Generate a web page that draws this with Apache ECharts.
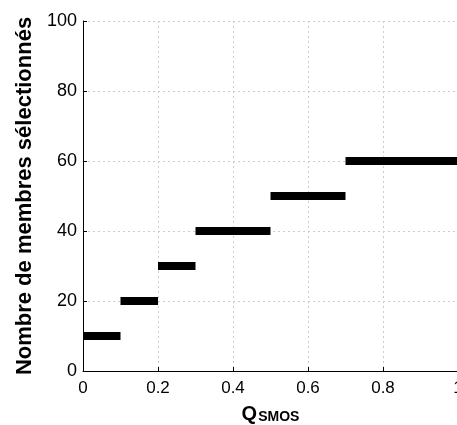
<!DOCTYPE html>
<html><head><meta charset="utf-8">
<script src="https://cdn.jsdelivr.net/npm/echarts@6/dist/echarts.min.js"></script>
<style>html,body{margin:0;padding:0;background:#fff}#c{width:457px;height:425px}</style>
</head><body><div id="c"></div>
<script>
const segStart = [0, 0.1, 0.2, 0.3, 0.5, 0.7];
const segEnd = [0.1, 0.2, 0.3, 0.5, 0.7, 1.0];
const segValue = [10, 20, 30, 40, 50, 60];
const xTicks = [0, 0.2, 0.4, 0.6, 0.8, 1];
const yTicks = [0, 20, 40, 60, 80, 100];

const chart = echarts.init(document.getElementById('c'), null, {renderer: 'canvas'});
const series = segValue.map((v, i) => ({
  type: 'line',
  data: [[segStart[i], v], [segEnd[i], v]],
  symbol: 'none',
  lineStyle: {color: '#000', width: 8, cap: 'butt'},
  silent: true,
  animation: false
}));
const font = 'Liberation Sans, Arial, Helvetica, sans-serif';
chart.setOption({
  animation: false,
  grid: {left: 83, right: -1, top: 21, bottom: 54, containLabel: false, outerBoundsMode: 'none'},
  xAxis: {
    type: 'value', min: 0, max: 1, interval: 0.2,
    axisLine: {show: true, onZero: false, lineStyle: {color: '#000', width: 1}},
    axisTick: {show: true, inside: true, length: 4, lineStyle: {color: '#000'}},
    axisLabel: {color: '#000', fontSize: 17, fontFamily: font, margin: 9, hideOverlap: false,
      formatter: v => String(Math.round(v * 10) / 10)},
    splitLine: {show: true, lineStyle: {color: '#cccccc', type: [2, 3], width: 1}},
    name: '{q|Q}{s|SMOS}',
    nameLocation: 'middle', nameGap: 23,
    nameTextStyle: {verticalAlign: 'top', rich: {
      q: {fontSize: 20, fontWeight: 'bold', fontFamily: font, color: '#000', verticalAlign: 'bottom'},
      s: {fontSize: 14, fontWeight: 'bold', fontFamily: font, color: '#000', padding: [16, 0, 0, 1], verticalAlign: 'top'}
    }}
  },
  yAxis: {
    type: 'value', min: 0, max: 100, interval: 20,
    axisLine: {show: true, onZero: false, lineStyle: {color: '#000', width: 1}},
    axisTick: {show: true, inside: true, length: 4, lineStyle: {color: '#000'}},
    axisLabel: {color: '#000', fontSize: 18, fontFamily: font, margin: 6},
    splitLine: {show: true, lineStyle: {color: '#cccccc', type: [2, 3], width: 1}},
    name: 'Nombre de membres sélectionnés',
    nameLocation: 'middle', nameGap: 47,
    nameTextStyle: {fontSize: 22, fontWeight: 'bold', fontFamily: font, color: '#000'}
  },
  series: series
});
</script></body></html>
